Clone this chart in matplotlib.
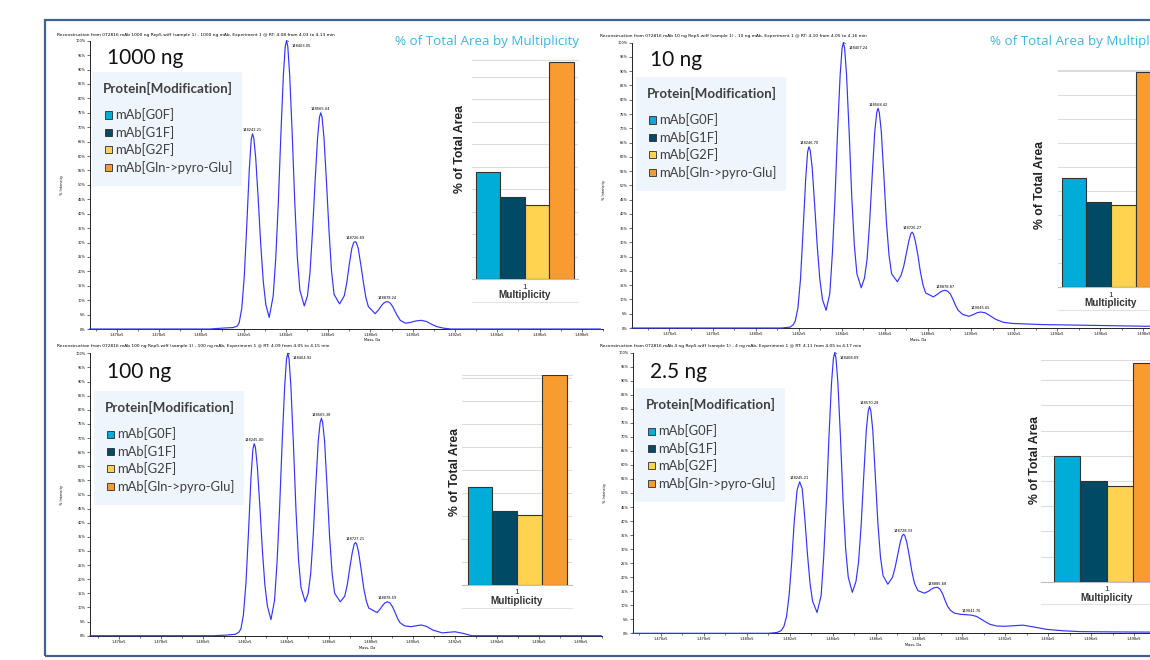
import numpy as np
import matplotlib.pyplot as plt
from matplotlib.patches import Rectangle
from matplotlib.lines import Line2D

W, H = 1150, 660

# ---------------- data ----------------
samples = ["1000 ng", "10 ng", "100 ng", "2.5 ng"]
run_titles = [
    "Reconstruction from 072816 mAb 1000 ng Rep5.wiff (sample 1) - 1000 ng mAb, Experiment 1 @ RT: 4.08 from 4.03 to 4.13 min",
    "Reconstruction from 072816 mAb 10 ng Rep5.wiff (sample 1) - 10 ng mAb, Experiment 1 @ RT: 4.10 from 4.05 to 4.16 min",
    "Reconstruction from 072816 mAb 100 ng Rep5.wiff (sample 1) - 100 ng mAb, Experiment 1 @ RT: 4.09 from 4.05 to 4.15 min",
    "Reconstruction from 072816 mAb 4 ng Rep5.wiff (sample 1) - 4 ng mAb, Experiment 1 @ RT: 4.11 from 4.05 to 4.17 min",
]
species = ["mAb[G0F]", "mAb[G1F]", "mAb[G2F]", "mAb[Gln->pyro-Glu]"]
species_colors = ["#00acd8", "#004a66", "#ffd24f", "#f89c30"]

# % of total area, multiplicity 1
area_1000 = [23.9, 18.2, 16.5, 48.2]
area_10 = [22.7, 17.7, 17.1, 44.8]
area_100 = [21.3, 16.1, 15.2, 45.6]
area_2p5 = [25.0, 19.9, 19.0, 43.5]

# reconstructed spectra (mass Da, % intensity)
spec_1000 = [
    (147471, 0), (148040, 0), (148100, 0.3), (148150, 0.5), (148170, 1.0), (148179, 2.2), (148191, 7), (148203, 18),
    (148215, 36), (148227, 55.5), (148236, 65.7), (148242, 67.7), (148248, 66.3), (148257, 59.6), (148269, 45.2),
    (148281, 29.3), (148293, 16.5), (148305, 8.5), (148321, 4.0), (148340, 11.5), (148352, 24.5), (148364, 43.5),
    (148376, 67), (148388, 88), (148397, 98), (148403, 100), (148409, 98), (148418, 88), (148430, 67.5), (148442, 44),
    (148454, 25), (148466, 13.5), (148487, 8.0), (148502, 11.5), (148514, 19.5), (148526, 34), (148538, 51),
    (148550, 66.5), (148559, 73.5), (148565, 75), (148571, 73.5), (148580, 66.5), (148592, 51), (148604, 34),
    (148616, 20), (148628, 12), (148654, 8.7), (148676, 11.5), (148688, 16), (148700, 22.5), (148712, 28), (148721, 30),
    (148727, 30.3), (148733, 30), (148742, 28), (148754, 22.5), (148766, 16.5), (148778, 11), (148790, 7.8),
    (148822, 5.3), (148839, 6.7), (148851, 8.0), (148863, 9.0), (148872, 9.4), (148878, 9.5), (148884, 9.4),
    (148893, 9.0), (148905, 7.8), (148917, 6.0), (148929, 4.4), (148941, 3.0), (148966, 2.0), (148990, 2.3),
    (149015, 2.8), (149040, 3.0), (149065, 2.6), (149090, 1.6), (149115, 0.8), (149145, 0.3), (149180, 0), (149887, 0)]
spec_10 = [
    (147426, 0), (148120, 0), (148160, 0.3), (148175, 1.2), (148184, 2.5), (148196, 7), (148208, 17), (148220, 34),
    (148232, 52), (148241, 61.6), (148247, 63.5), (148253, 62.3), (148262, 56.5), (148274, 43), (148286, 28.5),
    (148298, 17), (148310, 10), (148327, 6.2), (148344, 12), (148356, 26), (148368, 45), (148380, 68.5), (148392, 88.5),
    (148401, 98), (148407, 100), (148413, 98), (148422, 88.5), (148434, 68.5), (148446, 46), (148458, 29), (148470, 19),
    (148490, 14.1), (148505, 17.5), (148517, 24), (148529, 37), (148541, 53.5), (148553, 69), (148562, 75.5),
    (148568, 77), (148574, 75.5), (148583, 69), (148595, 53.5), (148607, 37), (148619, 25.5), (148631, 19),
    (148658, 16.2), (148675, 18.5), (148687, 21.5), (148699, 26), (148711, 30.5), (148720, 33), (148726, 33.6),
    (148732, 33), (148741, 30.5), (148753, 25.5), (148765, 19.5), (148777, 15), (148789, 12.3), (148825, 10.9),
    (148843, 11.8), (148855, 12.5), (148867, 13.0), (148879, 13.2), (148891, 12.9), (148903, 12.0), (148915, 10.2),
    (148927, 8.0), (148939, 6.3), (148960, 4.8), (148990, 4.1), (149010, 4.7), (149030, 5.4), (149046, 5.6),
    (149066, 5.3), (149090, 4.2), (149115, 3.0), (149150, 2.0), (149190, 1.6), (149330, 1.2), (149580, 0.9),
    (149820, 0.6), (149894, 1.0)]
spec_100 = [
    (147464, 0), (148050, 0), (148110, 0.2), (148155, 0.5), (148172, 1.2), (148182, 2.4), (148194, 7.5), (148206, 18.5),
    (148218, 36.5), (148230, 56), (148239, 66), (148245, 68), (148251, 66.7), (148260, 60), (148272, 46), (148284, 30.5),
    (148296, 18), (148308, 10.5), (148325, 5.7), (148342, 12.5), (148354, 26), (148366, 45), (148378, 68), (148390, 88),
    (148399, 98), (148405, 100), (148411, 98), (148420, 88), (148432, 67.5), (148444, 44.5), (148456, 27), (148468, 17),
    (148488, 12), (148502, 15), (148514, 22), (148526, 35.5), (148538, 53), (148550, 69), (148559, 75.5), (148565, 77),
    (148571, 75.5), (148580, 69), (148592, 52.5), (148604, 35), (148616, 22), (148628, 15), (148655, 12), (148676, 14),
    (148688, 18), (148700, 24), (148712, 29.5), (148721, 32.4), (148727, 33), (148733, 32.4), (148742, 29.5),
    (148754, 23.5), (148766, 17), (148778, 12.5), (148790, 9.8), (148830, 8.2), (148845, 9.5), (148857, 10.8),
    (148867, 11.6), (148879, 12), (148891, 11.6), (148903, 10.3), (148915, 8.3), (148927, 6.2), (148939, 4.6),
    (148960, 3.5), (148990, 3.2), (149015, 3.5), (149040, 3.8), (149065, 3.3), (149095, 2.0), (149140, 1.0),
    (149170, 1.2), (149200, 1.4), (149240, 0.8), (149280, 0), (149896, 0)]
spec_2p5 = [
    (147470, 0), (148100, 0), (148140, 0.3), (148160, 1.0), (148172, 2.5), (148184, 6), (148196, 13.5), (148208, 25.5),
    (148220, 40), (148233, 51), (148245, 54), (148257, 51.5), (148269, 41), (148281, 28.5), (148293, 18), (148305, 11.5),
    (148326, 7.4), (148345, 13.5), (148357, 27.5), (148369, 46.5), (148381, 69.5), (148393, 89), (148402, 98),
    (148408, 100), (148414, 98), (148423, 89), (148435, 69.5), (148447, 47), (148459, 30), (148471, 20), (148490, 14.6),
    (148507, 18.5), (148519, 25.5), (148531, 38.5), (148543, 56), (148555, 72.5), (148564, 79.3), (148570, 80.8),
    (148576, 79.3), (148585, 72.5), (148597, 56), (148609, 39), (148621, 27), (148633, 20.5), (148655, 17.5),
    (148677, 20), (148689, 23.5), (148701, 28), (148713, 32.5), (148722, 34.8), (148728, 35.3), (148734, 34.8),
    (148743, 32.5), (148755, 27.5), (148767, 22), (148779, 17.8), (148795, 15.2), (148825, 14.3), (148845, 15.0),
    (148857, 15.7), (148869, 16.2), (148885, 16.4), (148897, 15.8), (148909, 14.2), (148921, 11.8), (148933, 9.6),
    (148946, 8.2), (148964, 7.2), (148990, 6.8), (149020, 6.6), (149042, 6.5), (149068, 6.0), (149100, 4.5),
    (149130, 3.2), (149161, 2.6), (149200, 2.5), (149240, 2.7), (149284, 2.9), (149330, 2.3), (149394, 1.4),
    (149470, 0.9), (149549, 0.6), (149700, 0.5), (149944, 0.4)]

# labelled peaks
peaks_1000 = [148242.21, 148403.05, 148565.04, 148726.69, 148878.24]
peak_h_1000 = [67.7, 100, 75, 30.3, 9.5]
peaks_10 = [148246.70, 148407.24, 148568.42, 148726.27, 148878.87, 149045.65]
peak_h_10 = [63.5, 100, 77, 33.6, 13.2, 5.6]
peaks_100 = [148245.00, 148404.92, 148565.38, 148727.21, 148878.59]
peak_h_100 = [68, 100, 77, 33, 12]
peaks_2p5 = [148245.21, 148408.09, 148570.28, 148728.33, 148885.68, 149041.76]
peak_h_2p5 = [54, 100, 80.8, 35.3, 16.4, 6.5]

mass_ticks = list(range(147600, 149801, 200))
mass_ticklabels = ["%.3fe5" % (m / 1e5) for m in mass_ticks]
int_ticks = list(range(0, 101, 5))
int_ticklabels = ["%d%%" % v for v in int_ticks]

areas = [area_1000, area_10, area_100, area_2p5]
spectra = [spec_1000, spec_10, spec_100, spec_2p5]
peaks = [peaks_1000, peaks_10, peaks_100, peaks_2p5]
peak_h = [peak_h_1000, peak_h_10, peak_h_100, peak_h_2p5]

# ---------------- layout (pixels from top-left) ----------------
layout = [
    dict(spec=(89.5, 40.7, 603, 329), xlim=(147471, 149887), title=(57, 35), ylab=(62, 185), xlab=(372, 340),
         tag=(107, 58), legend=(92, 72), bar=(471.7, 60, 577.7, 279.3), bar_w=0.232, bar_top=48.75,
         bar_ylab=(460, 149), heading=(395, 42)),
    dict(spec=(632, 42.7, 1165, 328), xlim=(147426, 149894), title=(600, 35.7), ylab=(604, 190), xlab=(918, 340),
         tag=(650, 59.5), legend=(636, 77), bar=(1058, 70, 1164, 287), bar_w=0.232, bar_top=45.2,
         bar_ylab=(1040, 185), heading=(990, 42)),
    dict(spec=(90, 353.3, 602, 635.7), xlim=(147464, 149896), title=(57, 345.7), ylab=(62, 495), xlab=(367, 648),
         tag=(107, 372), legend=(94, 391), bar=(462, 375, 572, 585), bar_w=0.225, bar_top=45.6,
         bar_ylab=(455, 472), heading=None),
    dict(spec=(633, 352.7, 1165, 633.3), xlim=(147470, 149944), title=(600, 345.7), ylab=(605, 493), xlab=(913, 645),
         tag=(650, 372), legend=(635, 388), bar=(1041, 360, 1172.4, 581.7), bar_w=0.2, bar_top=44,
         bar_ylab=(1035, 460), heading=None),
]

fig = plt.figure(figsize=(W / 100, H / 100), dpi=100)
fig.patch.set_facecolor("white")


def box(x0, y0, x1, y1):
    return [x0 / W, 1 - y1 / H, (x1 - x0) / W, (y1 - y0) / H]


def fx(x):
    return x / W


def fy(y):
    return 1 - y / H


calibri = ["Lato", "DejaVu Sans"]

for i, p in enumerate(layout):
    # spectrum
    ax = fig.add_axes(box(*p["spec"]))
    m, v = zip(*spectra[i])
    ax.plot(m, v, color="#3434ff", lw=0.85, clip_on=False, zorder=3)
    ax.set_xlim(*p["xlim"])
    ax.set_ylim(0, 100)
    ax.set_xticks(mass_ticks, mass_ticklabels)
    ax.set_xticks(range(147500, 149901, 100), minor=True)
    ax.set_yticks(int_ticks, int_ticklabels)
    ax.tick_params(axis="both", labelsize=2.5, length=2, width=0.4, pad=1)
    ax.tick_params(axis="x", which="minor", length=1.2, width=0.4)
    for s in ["top", "right"]:
        ax.spines[s].set_visible(False)
    for s in ["left", "bottom"]:
        ax.spines[s].set_linewidth(0.6)
    for pm, ph in zip(peaks[i], peak_h[i]):
        if ph >= 100:
            ax.annotate("%.2f" % pm, xy=(pm, ph), xytext=(3.6, -3.6), textcoords="offset points",
                        fontsize=2.6, ha="left", va="center",
                        arrowprops=dict(arrowstyle="-", lw=0.4, color="black", shrinkA=0, shrinkB=0))
        else:
            ax.annotate("%.2f" % pm, xy=(pm, ph), xytext=(0, 1.2), textcoords="offset points",
                        fontsize=2.6, ha="center", va="bottom")
    fig.text(fx(p["title"][0]), fy(p["title"][1]), run_titles[i], fontsize=3.2, ha="left", va="center")
    fig.text(fx(p["ylab"][0]), fy(p["ylab"][1]), "% Intensity", fontsize=2.5, rotation=90,
             ha="center", va="center")
    fig.text(fx(p["xlab"][0]), fy(p["xlab"][1]), "Mass, Da", fontsize=2.6, ha="center", va="center")

    # sample tag
    fig.text(fx(p["tag"][0]), fy(p["tag"][1]), samples[i], fontsize=15, family=calibri,
             color="#111111", ha="left", va="center")

    # legend panel
    lx, ly = p["legend"]
    fig.add_artist(Rectangle((fx(lx), fy(ly + 114)), 150 / W, 114 / H, transform=fig.transFigure,
                             facecolor="#eef5fc", edgecolor="none"))
    fig.text(fx(lx + 11), fy(ly + 16), "Protein[Modification]", fontsize=9.6, fontweight="bold",
             family=calibri, color="#3f3f3f", ha="left", va="center")
    for k, name in enumerate(species):
        ry = ly + 43 + 17.4 * k
        fig.add_artist(Rectangle((fx(lx + 13), fy(ry + 3.5)), 7 / W, 7 / H, transform=fig.transFigure,
                                 facecolor=species_colors[k], edgecolor="#2b2b2b", lw=0.6))
        fig.text(fx(lx + 23), fy(ry), name, fontsize=9.4, family=calibri, color="#3f3f3f",
                 ha="left", va="center")

    # bar chart
    bx = fig.add_axes(box(*p["bar"]))
    w = p["bar_w"]
    offs = [-1.5, -0.5, 0.5, 1.5]
    for k in range(len(species)):
        bx.bar(1 + offs[k] * w, areas[i][k], width=w, color=species_colors[k],
               edgecolor="#333333", linewidth=0.8, zorder=3)
    bx.set_xlim(0.5, 1.5)
    bx.set_ylim(0, p["bar_top"])
    bx.set_yticks(np.arange(0, p["bar_top"], 5))
    bx.yaxis.grid(True, color="#dcdcdc", lw=0.8)
    bx.set_axisbelow(True)
    bx.tick_params(left=False, labelleft=False, bottom=False, labelbottom=False)
    for s in ["left", "right"]:
        bx.spines[s].set_visible(False)
    bx.spines["top"].set_color("#dcdcdc")
    bx.spines["bottom"].set_color("#bdbdbd")
    x0, y0, x1, y1 = p["bar"]
    cx = (x0 + x1) / 2
    fig.text(fx(cx), fy(y1 + 8), "1", fontsize=6, family=["Liberation Sans"], color="#333333",
             ha="center", va="center")
    fig.text(fx(cx), fy(y1 + 16), "Multiplicity", fontsize=7.2, fontweight="bold",
             family=["Liberation Sans"], color="#333333", ha="center", va="center")
    fig.add_artist(Line2D([fx(x0), fx(x1)], [fy(y1 + 22.5)] * 2, transform=fig.transFigure,
                          color="#e3e3e3", lw=0.8))
    fig.text(fx(p["bar_ylab"][0]), fy(p["bar_ylab"][1]), "% of Total Area", fontsize=8.8,
             fontweight="bold", family=["Liberation Sans"], color="#222222", rotation=90,
             ha="center", va="center")
    if p["heading"] is not None:
        fig.text(fx(p["heading"][0]), fy(p["heading"][1]), "% of Total Area by Multiplicity",
                 fontsize=9.6, family=["Open Sans", "DejaVu Sans"], color="#3db6e4",
                 ha="left", va="center")

# outer frame
fig.add_artist(Rectangle((fx(45), fy(656)), (1170 - 45) / W, (656 - 20) / H, transform=fig.transFigure,
                         fill=False, edgecolor="#41618f", lw=1.6))

fig.savefig("out.png", dpi=100)
